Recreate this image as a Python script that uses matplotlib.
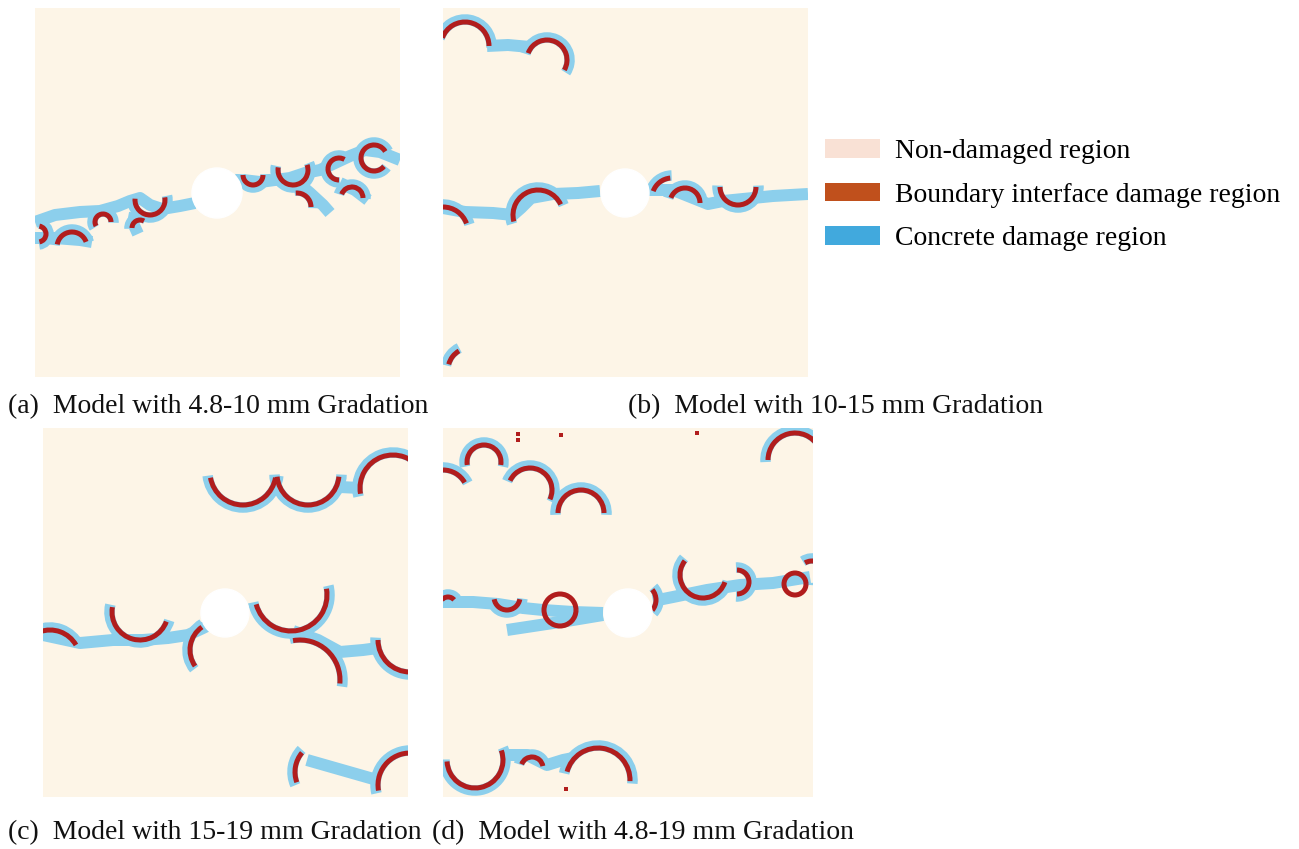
import numpy as np
import matplotlib
matplotlib.use("Agg")
import matplotlib.pyplot as plt
from matplotlib.patches import Arc, Circle, Patch

# Figure size in pixels
W, H = 1299, 849

# Colours
BG = "#fdf5e7"
CRACK = "#8ccfec"
BOUND = "#b11d1d"

# Panel extents (left, top, width, height) in figure pixels
PANELS = {
    "a": (35, 8, 365, 369),
    "b": (443, 8, 365, 369),
    "c": (43, 428, 365, 369),
    "d": (443, 428, 370, 369),
}

# Data: panel-local pixel coordinates (y down)
# holes: (x, y, r)
holes = {
    "a": (182, 185, 25),
    "b": (182, 185, 24),
    "c": (182, 185, 24),
    "d": (185, 185, 24),
}

# concrete damage (crack) polylines
cracks_a = [
    [(0, 214), (20, 207), (45, 204), (65, 203), (83, 198), (95, 193), (105, 190),
     (115, 197), (127, 201), (145, 198), (160, 195)],
    [(0, 230), (20, 230), (45, 232), (57, 234)],
    [(100, 205), (98, 215), (103, 226)],
    [(208, 172), (225, 174), (240, 172), (255, 170), (270, 165), (285, 162),
     (300, 155), (315, 148), (330, 142), (345, 144), (365, 152)],
    [(262, 174), (275, 185), (288, 197), (295, 205)],
    [(305, 175), (320, 182), (333, 192)],
]
cracks_b = [
    [(0, 200), (22, 204), (50, 205), (70, 207), (78, 200), (88, 190), (110, 186),
     (135, 185), (157, 183)],
    [(44, 38), (65, 37), (87, 39)],
    [(205, 182), (230, 182), (250, 190), (265, 196), (280, 193), (310, 190),
     (330, 188), (365, 186)],
]
cracks_c = [
    [(297, 59), (317, 60)],
    [(0, 207), (37, 215), (70, 212), (100, 212), (125, 210), (145, 207),
     (160, 200), (170, 195)],
    [(250, 203), (275, 212), (297, 224), (320, 222), (335, 220)],
    [(264, 332), (334, 352)],
]
cracks_d = [
    [(0, 174), (30, 174), (55, 176), (80, 180), (100, 182), (130, 184), (160, 185)],
    [(64, 202), (97, 197), (130, 192), (160, 187)],
    [(210, 173), (230, 169), (264, 162), (297, 157), (330, 155), (367, 149)],
    [(60, 327), (84, 327), (104, 337), (120, 332), (130, 330)],
]

# boundary interface damage arcs: (cx, cy, r, theta1, theta2)
arcs_a = [
    (3, 226, 8, -80, 80),
    (37, 239, 15, 190, 340),
    (68, 214, 8, 150, 360),
    (115, 192, 15, -10, 185),
    (105, 220, 8, 180, 300),
    (218, 167, 10, 0, 180),
    (258, 162, 15, -20, 190),
    (262, 199, 14, 265, 360),
    (304, 161, 11, 90, 300),
    (317, 190, 11, 200, 360),
    (339, 150, 13, 40, 330),
]
arcs_b = [
    (22, 38, 24, 200, 360),
    (104, 52, 20, 200, 390),
    (0, 224, 25, 270, 340),
    (95, 207, 25, 165, 335),
    (229, 190, 20, 200, 265),
    (242, 195, 15, 200, 360),
    (295, 179, 18, 0, 180),
    (27, 362, 22, 195, 240),
]
arcs_c = [
    (200, 44, 33, 10, 170),
    (265, 46, 31, 5, 175),
    (350, 60, 33, 170, 330),
    (7, 232, 30, 250, 330),
    (97, 184, 28, 20, 190),
    (175, 222, 28, 145, 235),
    (248, 167, 36, -10, 165),
    (257, 252, 40, 260, 365),
    (367, 212, 32, 90, 180),
    (282, 344, 30, 160, 220),
    (367, 357, 32, 170, 280),
]
arcs_d = [
    (0, 67, 25, 270, 330),
    (41, 34, 17, 170, 370),
    (87, 62, 22, 205, 385),
    (138, 85, 23, 180, 360),
    (352, 32, 27, 180, 330),
    (5, 177, 8, 220, 320),
    (64, 169, 13, 10, 170),
    (117, 182, 16, 0, 360),
    (197, 172, 16, -40, 40),
    (260, 147, 23, 18, 218),
    (294, 154, 12, -90, 90),
    (352, 156, 11, 0, 360),
    (369, 147, 14, 240, 290),
    (32, 332, 28, -20, 177),
    (89, 340, 11, 200, 350),
    (155, 352, 32, 195, 362),
]

# isolated damaged pixels
specks_d = [(75, 6), (75, 12), (118, 7), (254, 5), (123, 361)]

cracks = {"a": cracks_a, "b": cracks_b, "c": cracks_c, "d": cracks_d}
arcs = {"a": arcs_a, "b": arcs_b, "c": arcs_c, "d": arcs_d}
specks = {"a": [], "b": [], "c": [], "d": specks_d}

captions = {
    "a": "(a)  Model with 4.8-10 mm Gradation",
    "b": "(b)  Model with 10-15 mm Gradation",
    "c": "(c)  Model with 15-19 mm Gradation",
    "d": "(d)  Model with 4.8-19 mm Gradation",
}
caption_pos = {"a": (8, 407), "b": (628, 407), "c": (8, 833), "d": (432, 833)}

legend_labels = ["Non-damaged region", "Boundary interface damage region",
                 "Concrete damage region"]
legend_colors = ["#f9e1d5", "#c0501c", "#41a9dd"]

PX = 72.0 / 100  # points per pixel

plt.rcParams["font.family"] = ["Liberation Serif", "DejaVu Serif"]
fig = plt.figure(figsize=(W / 100, H / 100), dpi=100)

for key, (x0, y0, w, h) in PANELS.items():
    ax = fig.add_axes([x0 / W, 1 - (y0 + h) / H, w / W, h / H])
    ax.set_xlim(0, w)
    ax.set_ylim(h, 0)
    ax.set_facecolor(BG)
    ax.set_xticks([])
    ax.set_yticks([])
    for s in ax.spines.values():
        s.set_visible(False)

    for line in cracks[key]:
        xs, ys = zip(*line)
        ax.plot(xs, ys, color=CRACK, lw=12 * PX, solid_capstyle="butt",
                solid_joinstyle="round", zorder=2)

    for cx, cy, r, t1, t2 in arcs[key]:
        halo = Arc((cx, cy), 2 * (r + 2.5), 2 * (r + 2.5), theta1=t1 - 4,
                   theta2=t2 + 4, color=CRACK, lw=10.5 * PX, zorder=3)
        ax.add_patch(halo)
    for cx, cy, r, t1, t2 in arcs[key]:
        arc = Arc((cx, cy), 2 * r, 2 * r, theta1=t1, theta2=t2,
                  color=BOUND, lw=5 * PX, zorder=4)
        ax.add_patch(arc)

    if specks[key]:
        sx, sy = zip(*specks[key])
        ax.plot(sx, sy, "s", color=BOUND, ms=2.5, mew=0, zorder=4)

    hx, hy, hr = holes[key]
    ax.add_patch(Circle((hx, hy), hr, color="white", zorder=6))

    tx, ty = caption_pos[key]
    fig.text(tx / W, 1 - ty / H, captions[key], fontsize=20, va="center",
             ha="left", color="#111111")

handles = [Patch(facecolor=c, edgecolor="none") for c in legend_colors]
fig.legend(handles, legend_labels, loc="upper left",
           bbox_to_anchor=(825 / W, 1 - 139 / H), frameon=False, fontsize=20,
           handlelength=1.98, handleheight=0.65, handletextpad=0.54,
           labelspacing=0.67, borderpad=0, borderaxespad=0)

fig.savefig("out.png", dpi=100, facecolor="white")
